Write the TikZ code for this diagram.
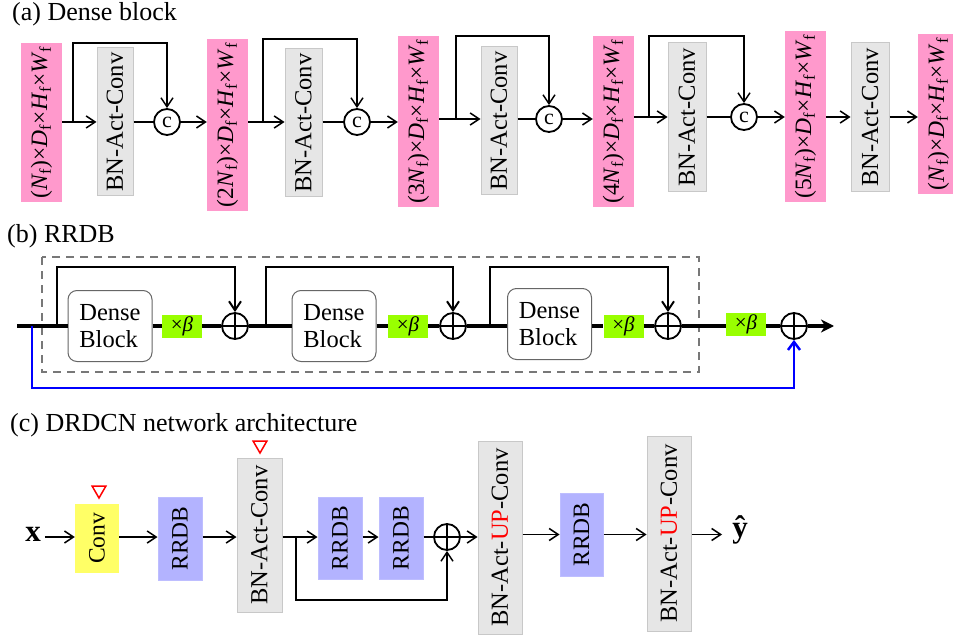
\documentclass[tikz,border=0pt]{standalone}
\usepackage{fontspec}
\usepackage{graphicx}
\setmainfont{Liberation Serif}
\usetikzlibrary{arrows.meta,shapes.geometric}
\definecolor{pinkc}{RGB}{255,153,204}
\definecolor{grayf}{RGB}{230,230,230}
\definecolor{grayd}{RGB}{200,200,200}
\definecolor{greenc}{RGB}{153,255,0}
\definecolor{lav}{RGB}{179,179,255}
\definecolor{yel}{RGB}{255,255,102}
\definecolor{dashc}{RGB}{120,120,120}
\newcommand{\dimtxt}[1]{(#1\textit{N}\textsubscript{f})×\textit{D}\textsubscript{f}×\textit{H}\textsubscript{f}×\textit{W}\textsubscript{f}}
\begin{document}
\begin{tikzpicture}[x=1pt,y=-1pt,
  title/.style={anchor=base west,inner sep=0,font=\fontsize{26}{28}\selectfont},
  pinkbox/.style={fill=pinkc,inner sep=0,font=\fontsize{23.5}{25}\selectfont},
  graybox/.style={fill=grayf,draw=grayd,line width=1,inner sep=0,font=\fontsize{24.5}{26}\selectfont},
  lavbox/.style={fill=lav,draw=lav!85!white,line width=1,inner sep=0,font=\fontsize{23.5}{25}\selectfont},
  yelbox/.style={fill=yel,inner sep=0,font=\fontsize{23.5}{25}\selectfont},
  cnode/.style={circle,draw,line width=1.8,minimum size=26,inner sep=0,font=\fontsize{22}{22}\selectfont},
  plusnode/.style={circle,draw,line width=1.8,minimum size=26,inner sep=0,
    path picture={\draw[line width=1.8] (path picture bounding box.north) -- (path picture bounding box.south)
      (path picture bounding box.west) -- (path picture bounding box.east);}},
  dense/.style={draw=black!60,fill=white,line width=1,rounded corners=9,minimum width=84,minimum height=71,
    inner sep=0,align=left,font=\fontsize{24.5}{27}\selectfont},
  greenbox/.style={fill=greenc,inner sep=0,minimum width=40,minimum height=23,font=\fontsize{21}{22}\selectfont},
  tri/.style={regular polygon,regular polygon sides=3,shape border rotate=180,draw=red,line width=1.5,minimum size=16,inner sep=0},
  ln/.style={line width=1.5},
  arr/.style={line width=1.5,-{Straight Barb[length=9pt,width=12pt]}},
  thk/.style={line width=3.5},
  larr/.style={line width=2,-{Straight Barb[length=9pt,width=12pt]}},
  blarr/.style={line width=2.5,draw=blue,-{Straight Barb[length=8pt,width=12pt]}},
  dashbox/.style={draw=dashc,line width=1.5,dash pattern=on 8pt off 6pt}
]
\useasboundingbox (0,0) rectangle (953,639);

% ---------------- (a) ----------------
\node[title] (ta) at (12,20.5) {(a) Dense block};

\node[pinkbox,minimum width=41,minimum height=159] (p1) at (41.5,122.5) {\rotatebox{90}{\dimtxt{}}};
\node[graybox,minimum width=36,minimum height=148] (g1) at (115,122) {\rotatebox{90}{BN-Act-Conv}};
\node[cnode] (c1) at (167,122) {c};
\node[pinkbox,minimum width=41,minimum height=172] (p2) at (227.5,125) {\rotatebox{90}{\dimtxt{2}}};
\node[graybox,minimum width=37,minimum height=148] (g2) at (303.5,123) {\rotatebox{90}{BN-Act-Conv}};
\node[cnode] (c2) at (357,122) {c};
\node[pinkbox,minimum width=41,minimum height=171] (p3) at (418.5,121.5) {\rotatebox{90}{\dimtxt{3}}};
\node[graybox,minimum width=36,minimum height=148] (g3) at (499,121) {\rotatebox{90}{BN-Act-Conv}};
\node[cnode] (c3) at (549,119) {c};
\node[pinkbox,minimum width=41,minimum height=171] (p4) at (613.5,121.5) {\rotatebox{90}{\dimtxt{4}}};
\node[graybox,minimum width=38,minimum height=149] (g4) at (687,117.5) {\rotatebox{90}{BN-Act-Conv}};
\node[cnode] (c4) at (744,117) {c};
\node[pinkbox,minimum width=41,minimum height=171] (p5) at (805.5,116.5) {\rotatebox{90}{\dimtxt{5}}};
\node[graybox,minimum width=38,minimum height=149] (g5) at (870,117.5) {\rotatebox{90}{BN-Act-Conv}};
\node[pinkbox,minimum width=41,minimum height=160] (p6) at (938.5,114) {\rotatebox{90}{\dimtxt{}}};

\coordinate (b1) at (73,122);  \coordinate (t1) at (167,43);
\coordinate (b2) at (263,122); \coordinate (t2) at (357,39);
\coordinate (b3) at (456,119); \coordinate (t3) at (549,36);
\coordinate (b4) at (649,117); \coordinate (t4) at (744,36);

\draw[ln] (p1.east |- c1) -- (b1);
\draw[arr] (b1) -- (g1.west |- c1);
\draw[arr] (b1) |- (t1) -- (c1.north);
\draw[ln] (g1.east |- c1) -- (c1.west);
\draw[arr] (c1.east) -- (c1 -| p2.west);

\draw[ln] (p2.east |- c2) -- (b2);
\draw[arr] (b2) -- (g2.west |- c2);
\draw[arr] (b2) |- (t2) -- (c2.north);
\draw[ln] (g2.east |- c2) -- (c2.west);
\draw[arr] (c2.east) -- (c2 -| p3.west);

\draw[ln] (p3.east |- c3) -- (b3);
\draw[arr] (b3) -- (g3.west |- c3);
\draw[arr] (b3) |- (t3) -- (c3.north);
\draw[ln] (g3.east |- c3) -- (c3.west);
\draw[arr] (c3.east) -- (c3 -| p4.west);

\draw[ln] (p4.east |- c4) -- (b4);
\draw[arr] (b4) -- (g4.west |- c4);
\draw[arr] (b4) |- (t4) -- (c4.north);
\draw[ln] (g4.east |- c4) -- (c4.west);
\draw[arr] (c4.east) -- (c4 -| p5.west);

\draw[arr] (p5.east |- c4) -- (g5.west |- c4);
\draw[arr] (g5.east |- c4) -- (p6.west |- c4);

% ---------------- (b) ----------------
\node[title] (tb) at (7,242) {(b) RRDB};
\draw[dashbox] (42,257) rectangle (699,372);

\node[dense] (d1) at (110,326) {Dense\\Block};
\node[greenbox] (gb1) at (182,326) {×\textit{β}};
\node[plusnode] (s1) at (235,326) {};
\node[dense] (d2) at (334,326) {Dense\\Block};
\node[greenbox] (gb2) at (408,326) {×\textit{β}};
\node[plusnode] (s2) at (453,326) {};
\node[dense] (d3) at (549.5,324) {Dense\\Block};
\node[greenbox] (gb3) at (623.5,326) {×\textit{β}};
\node[plusnode] (s3) at (668,326) {};
\node[greenbox] (gb4) at (746,324) {×\textit{β}};
\node[plusnode] (s4) at (794,326) {};

\coordinate (bstart) at (17,326);
\coordinate (bend) at (834,326);
\coordinate (bl) at (32,326);
\coordinate (bb) at (794,388);
\coordinate (lb1) at (57,326);  \coordinate (lt1) at (235,267);
\coordinate (lb2) at (266,326); \coordinate (lt2) at (453,267);
\coordinate (lb3) at (490,326); \coordinate (lt3) at (668,267);

\draw[thk] (bstart) -- (bstart -| d1.west);
\draw[thk] (d1.east |- bstart) -- (gb1.west |- bstart);
\draw[thk] (gb1.east |- bstart) -- (s1.west);
\draw[thk] (s1.east) -- (s1 -| d2.west);
\draw[thk] (d2.east |- s2) -- (gb2.west |- s2);
\draw[thk] (gb2.east |- s2) -- (s2.west);
\draw[thk] (s2.east) -- (s2 -| d3.west);
\draw[thk] (d3.east |- s3) -- (gb3.west |- s3);
\draw[thk] (gb3.east |- s3) -- (s3.west);
\draw[thk] (s3.east) -- (s3 -| gb4.west);
\draw[thk] (gb4.east |- s4) -- (s4.west);
\draw[thk,-{Stealth[length=13pt,width=13pt,inset=4pt]}] (s4.east) -- (bend);

\draw[larr] (lb1) |- (lt1) -- (s1.north);
\draw[larr] (lb2) |- (lt2) -- (s2.north);
\draw[larr] (lb3) |- (lt3) -- (s3.north);
\draw[blarr] (bl) |- (bb) -- (s4.south);

% ---------------- (c) ----------------
\node[title] (tc) at (10,431.5) {(c) DRDCN network architecture};

\node[inner sep=4,font=\fontsize{31}{31}\selectfont\bfseries] (xin) at (33,534) {x};
\node[yelbox,minimum width=44,minimum height=69] (conv) at (97,538.5) {\rotatebox{90}{Conv}};
\node[tri] (tr1) at (99,490) {};
\node[lavbox,minimum width=44,minimum height=83] (r1) at (180,538.5) {\rotatebox{90}{RRDB}};
\node[graybox,minimum width=45,minimum height=154] (bn1) at (259.5,535) {\rotatebox{90}{BN-Act-Conv}};
\node[tri] (tr2) at (260,445) {};
\node[lavbox,minimum width=44,minimum height=82] (r2) at (340,538) {\rotatebox{90}{RRDB}};
\node[lavbox,minimum width=44,minimum height=82] (r3) at (401,538) {\rotatebox{90}{RRDB}};
\node[plusnode] (sc) at (447,537) {};
\node[graybox,minimum width=44,minimum height=193] (up1) at (500,537.5) {\rotatebox{90}{BN-Act-\textcolor{red}{UP}-Conv}};
\node[lavbox,minimum width=43,minimum height=83] (r4) at (581.5,534.5) {\rotatebox{90}{RRDB}};
\node[graybox,minimum width=44,minimum height=195] (up2) at (669,533.5) {\rotatebox{90}{BN-Act-\textcolor{red}{UP}-Conv}};
\node[inner sep=0,font=\fontsize{31}{31}\selectfont\bfseries] (yhat) at (740,530) {ŷ};

\coordinate (br) at (296,537);
\coordinate (sk) at (447,600);

\draw[arr] (xin.east |- sc) -- (conv.west |- sc);
\draw[arr] (conv.east |- sc) -- (r1.west |- sc);
\draw[arr] (r1.east |- sc) -- (bn1.west |- sc);
\draw[ln] (bn1.east |- sc) -- (br);
\draw[arr] (br) -- (r2.west |- sc);
\draw[arr] (r2.east |- sc) -- (r3.west |- sc);
\draw[ln] (r3.east |- sc) -- (sc.west);
\draw[arr] (br) |- (sk) -- (sc.south);
\draw[arr] (sc.east) -- (sc -| up1.west);
\draw[arr] (up1.east |- r4) -- (r4.west);
\draw[arr] (r4.east) -- (r4 -| up2.west);
\draw[arr] (up2.east |- r4) -- (722,534.5);
\end{tikzpicture}
\end{document}
